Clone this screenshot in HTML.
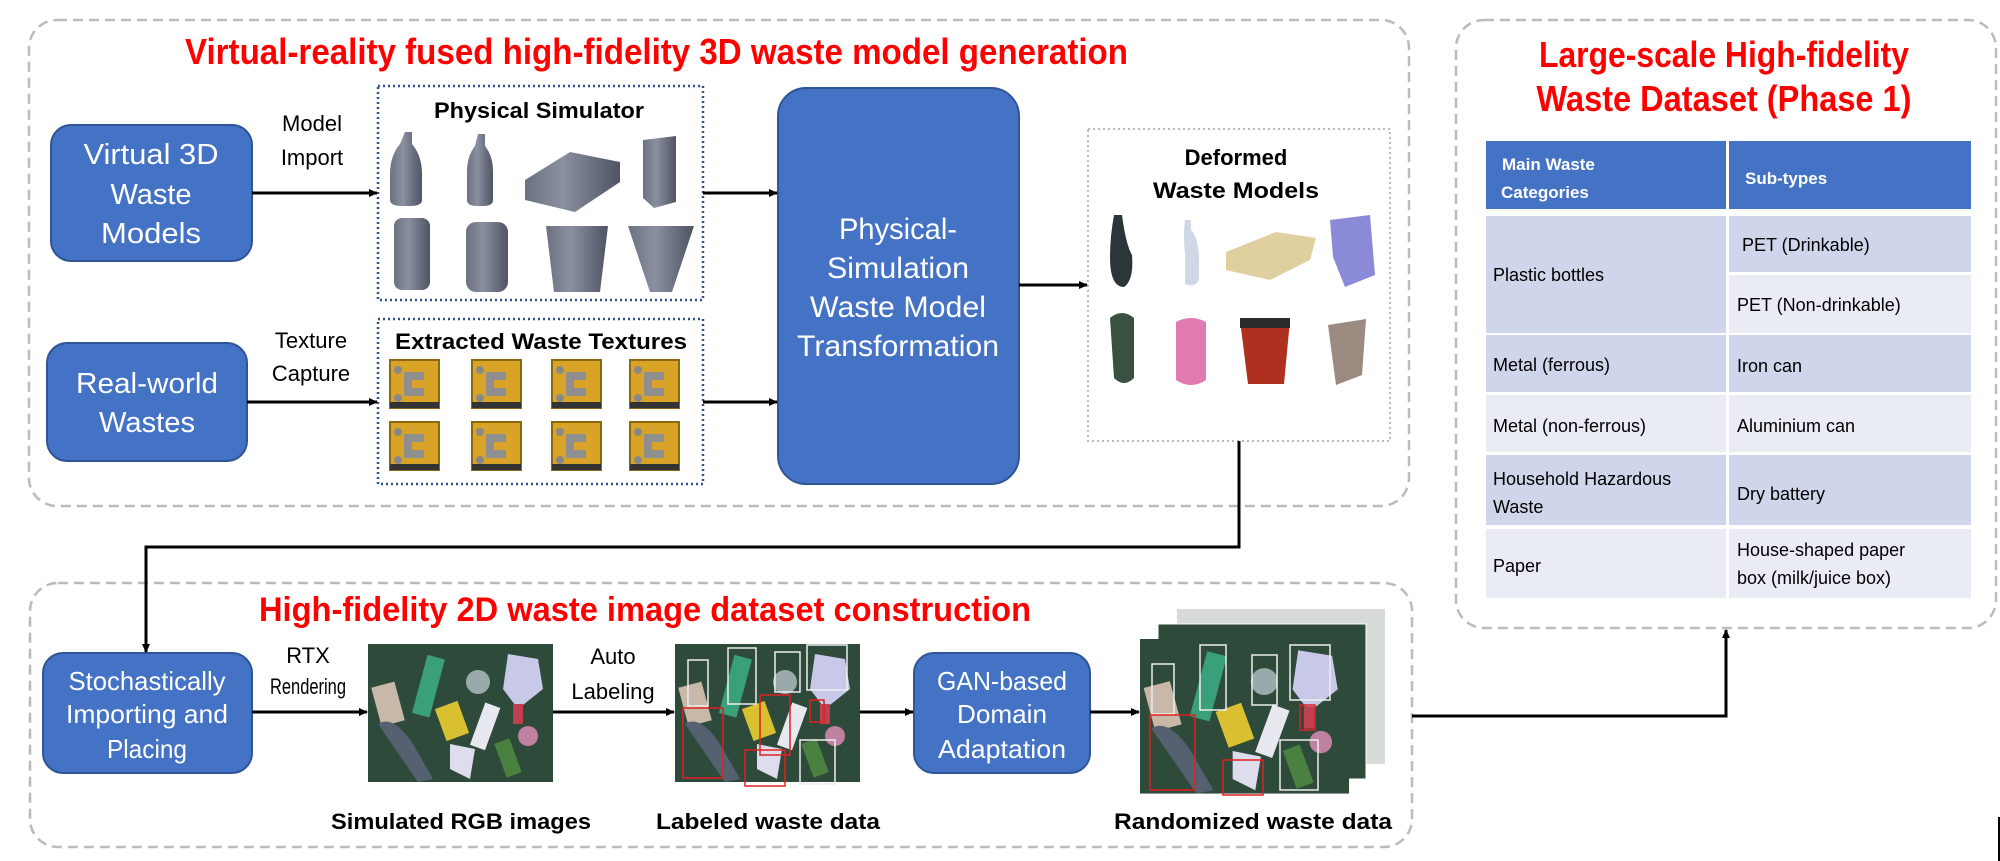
<!DOCTYPE html>
<html><head><meta charset="utf-8"><style>
html,body{margin:0;padding:0;background:#fff;}
svg{display:block;}
text{font-family:"Liberation Sans",sans-serif;}
</style></head><body>
<svg width="2000" height="861" viewBox="0 0 2000 861" xmlns="http://www.w3.org/2000/svg">
<defs>
<marker id="ah" markerWidth="10" markerHeight="10" refX="8" refY="5" orient="auto" markerUnits="userSpaceOnUse"><path d="M0,1 L9,5 L0,9 Z" fill="#000"/></marker>
<linearGradient id="gs" x1="0" x2="1"><stop offset="0" stop-color="#6b7180"/><stop offset="0.4" stop-color="#8a90a0"/><stop offset="1" stop-color="#4e5464"/></linearGradient>
<g id="tile"><rect width="49" height="48" fill="#d9a328"/><rect x="0" y="0" width="49" height="48" fill="none" stroke="#8a6a10" stroke-width="2"/><path d="M14,12 h20 v8 h-12 v8 h12 v8 h-20 z" fill="#8f8f8f"/><circle cx="8" cy="10" r="4" fill="#888"/><circle cx="8" cy="38" r="4" fill="#888"/><rect y="42" width="49" height="6" fill="#333"/></g>
<g id="scene">
<rect width="185" height="138" fill="#2e4a3b"/>
<rect x="8" y="40" width="24" height="40" fill="#c8b8a8" transform="rotate(-15 20 60)"/>
<rect x="52" y="12" width="18" height="60" fill="#3aa07a" transform="rotate(15 60 40)"/>
<circle cx="110" cy="38" r="12" fill="#9aa"/>
<path d="M140,10 l30,5 l5,30 l-25,20 l-15,-20 z" fill="#c8c8e8"/>
<path d="M10,80 q15,-10 35,20 l20,35 l-15,3 z" fill="#556070"/>
<rect x="72" y="60" width="24" height="34" fill="#d8c030" transform="rotate(-20 84 77)"/>
<rect x="110" y="60" width="16" height="45" fill="#e8e8f0" transform="rotate(20 118 80)"/>
<rect x="145" y="60" width="10" height="20" fill="#c04050"/>
<circle cx="160" cy="92" r="10" fill="#c080a0"/>
<rect x="132" y="96" width="16" height="36" fill="#4a8040" transform="rotate(-20 140 114)"/>
<path d="M82,100 l25,5 l-5,30 l-20,-10 z" fill="#dde"/>
</g>
</defs>

<!-- dashed group boxes -->
<rect x="29" y="20" width="1380" height="486" rx="28" fill="none" stroke="#bbb" stroke-width="2.5" stroke-dasharray="10,6"/>
<rect x="1456" y="20" width="540" height="608" rx="28" fill="none" stroke="#bbb" stroke-width="2.5" stroke-dasharray="10,6"/>
<rect x="30" y="583" width="1382" height="264" rx="28" fill="none" stroke="#bbb" stroke-width="2.5" stroke-dasharray="10,6"/>

<!-- titles -->
<text x="185" y="64" font-size="36" font-weight="bold" fill="#ff0000" textLength="943" lengthAdjust="spacingAndGlyphs">Virtual-reality fused high-fidelity 3D waste model generation</text>
<text x="1724" y="67" font-size="36" font-weight="bold" fill="#ff0000" text-anchor="middle" textLength="370" lengthAdjust="spacingAndGlyphs">Large-scale High-fidelity</text>
<text x="1724" y="111" font-size="36" font-weight="bold" fill="#ff0000" text-anchor="middle" textLength="375" lengthAdjust="spacingAndGlyphs">Waste Dataset (Phase 1)</text>
<text x="259" y="621" font-size="34" font-weight="bold" fill="#ff0000" textLength="772" lengthAdjust="spacingAndGlyphs">High-fidelity 2D waste image dataset construction</text>

<!-- blue boxes -->
<rect x="51" y="125" width="201" height="136" rx="20" fill="#4472c4" stroke="#2f5597" stroke-width="2"/>
<g fill="#fff" font-size="29" text-anchor="middle">
<text x="151" y="164" textLength="135" lengthAdjust="spacingAndGlyphs">Virtual 3D</text>
<text x="151" y="204">Waste</text>
<text x="151" y="243" textLength="100" lengthAdjust="spacingAndGlyphs">Models</text>
</g>
<rect x="47" y="343" width="200" height="118" rx="20" fill="#4472c4" stroke="#2f5597" stroke-width="2"/>
<g fill="#fff" font-size="29" text-anchor="middle">
<text x="147" y="393" textLength="142" lengthAdjust="spacingAndGlyphs">Real-world</text>
<text x="147" y="432" textLength="96" lengthAdjust="spacingAndGlyphs">Wastes</text>
</g>
<rect x="778" y="88" width="241" height="396" rx="28" fill="#4472c4" stroke="#2f5597" stroke-width="2"/>
<g fill="#fff" font-size="30" text-anchor="middle">
<text x="898" y="239" textLength="118" lengthAdjust="spacingAndGlyphs">Physical-</text>
<text x="898" y="278" textLength="142" lengthAdjust="spacingAndGlyphs">Simulation</text>
<text x="898" y="317" textLength="176" lengthAdjust="spacingAndGlyphs">Waste Model</text>
<text x="898" y="356" textLength="202" lengthAdjust="spacingAndGlyphs">Transformation</text>
</g>
<rect x="43" y="653" width="209" height="120" rx="20" fill="#4472c4" stroke="#2f5597" stroke-width="2"/>
<g fill="#fff" font-size="26" text-anchor="middle">
<text x="147" y="690" textLength="157" lengthAdjust="spacingAndGlyphs">Stochastically</text>
<text x="147" y="723" textLength="162" lengthAdjust="spacingAndGlyphs">Importing and</text>
<text x="147" y="758" textLength="80" lengthAdjust="spacingAndGlyphs">Placing</text>
</g>
<rect x="914" y="653" width="176" height="120" rx="20" fill="#4472c4" stroke="#2f5597" stroke-width="2"/>
<g fill="#fff" font-size="26" text-anchor="middle">
<text x="1002" y="690" textLength="130" lengthAdjust="spacingAndGlyphs">GAN-based</text>
<text x="1002" y="723" textLength="90" lengthAdjust="spacingAndGlyphs">Domain</text>
<text x="1002" y="758" textLength="128" lengthAdjust="spacingAndGlyphs">Adaptation</text>
</g>

<!-- arrow labels -->
<g font-size="22" fill="#000" text-anchor="middle">
<text x="312" y="131">Model</text>
<text x="312" y="165">Import</text>
<text x="311" y="348">Texture</text>
<text x="311" y="381">Capture</text>
<text x="308" y="663">RTX</text>
<text x="308" y="694" textLength="76" lengthAdjust="spacingAndGlyphs">Rendering</text>
<text x="613" y="664">Auto</text>
<text x="613" y="699">Labeling</text>
</g>

<!-- Physical simulator box -->
<rect x="378" y="86" width="325" height="214" fill="#fff" stroke="#2f4f8f" stroke-width="2.5" stroke-dasharray="2,3"/>
<text x="539" y="118" font-size="22" font-weight="bold" text-anchor="middle" textLength="210" lengthAdjust="spacingAndGlyphs">Physical Simulator</text>
<g fill="url(#gs)">
<path d="M405,132 h7 v12 q10,12 10,30 v26 q0,6 -12,6 h-8 q-12,0 -12,-6 v-26 q0,-18 10,-30 z"/>
<path d="M478,134 h7 v12 q8,10 8,26 v28 q0,6 -10,6 h-6 q-10,0 -10,-6 v-28 q0,-16 8,-26 z"/>
<path d="M525,180 l45,-28 l50,10 v20 l-45,30 l-50,-12 z"/>
<path d="M643,140 l33,-4 v66 l-22,6 l-11,-10 z"/>
<rect x="394" y="218" width="36" height="72" rx="8"/>
<rect x="466" y="222" width="42" height="70" rx="10"/>
<path d="M546,226 h62 l-8,66 h-46 z"/>
<path d="M628,226 h66 l-22,66 h-22 z"/>
</g>

<!-- Extracted textures box -->
<rect x="378" y="319" width="325" height="165" fill="#fff" stroke="#2f4f8f" stroke-width="2.5" stroke-dasharray="2,3"/>
<text x="541" y="349" font-size="22" font-weight="bold" text-anchor="middle" textLength="292" lengthAdjust="spacingAndGlyphs">Extracted Waste Textures</text>
<use href="#tile" x="390" y="360"/><use href="#tile" x="472" y="360"/><use href="#tile" x="552" y="360"/><use href="#tile" x="630" y="360"/>
<use href="#tile" x="390" y="422"/><use href="#tile" x="472" y="422"/><use href="#tile" x="552" y="422"/><use href="#tile" x="630" y="422"/>

<!-- Deformed box -->
<rect x="1088" y="129" width="302" height="312" fill="#fff" stroke="#bbb" stroke-width="2" stroke-dasharray="2,3"/>
<text x="1236" y="165" font-size="22" font-weight="bold" text-anchor="middle">Deformed</text>
<text x="1236" y="198" font-size="22" font-weight="bold" text-anchor="middle" textLength="166" lengthAdjust="spacingAndGlyphs">Waste Models</text>
<path d="M1114,215 h8 q4,30 10,40 q2,25 -8,32 q-14,0 -14,-30 q0,-20 4,-42 z" fill="#2c3538"/>
<path d="M1185,220 h6 v10 q8,8 8,30 v20 q-4,8 -14,4 v-30 q-2,-20 0,-34 z" fill="#d0d8e8"/>
<path d="M1226,252 l50,-20 l40,6 l-6,22 l-40,20 l-44,-10 z" fill="#e0d0a0"/>
<path d="M1330,220 l40,-5 l5,60 l-30,12 l-12,-30 z" fill="#8a8ad8"/>
<path d="M1110,318 q12,-10 24,0 v60 q-10,10 -20,0 z" fill="#3a5040"/>
<path d="M1176,322 q15,-8 30,0 v58 q-15,10 -30,0 z" fill="#e07ab0"/>
<path d="M1240,320 h50 l-6,64 h-36 z" fill="#b03020"/>
<rect x1="" x="1240" y="318" width="50" height="10" fill="#2a2a2a"/>
<path d="M1328,325 l38,-6 l-4,56 l-26,10 z" fill="#9a8a80"/>

<!-- table -->
<rect x="1486" y="141" width="240" height="68" fill="#4472c4"/>
<rect x="1729" y="141" width="242" height="68" fill="#4472c4"/>
<rect x="1486" y="216" width="240" height="117" fill="#cfd5ea"/>
<rect x="1729" y="216" width="242" height="56" fill="#cfd5ea"/>
<rect x="1729" y="275" width="242" height="58" fill="#e9ebf5"/>
<rect x="1486" y="335" width="240" height="57" fill="#cfd5ea"/>
<rect x="1729" y="335" width="242" height="57" fill="#cfd5ea"/>
<rect x="1486" y="395" width="240" height="57" fill="#e9ebf5"/>
<rect x="1729" y="395" width="242" height="57" fill="#e9ebf5"/>
<rect x="1486" y="455" width="240" height="70" fill="#cfd5ea"/>
<rect x="1729" y="455" width="242" height="70" fill="#cfd5ea"/>
<rect x="1486" y="529" width="240" height="69" fill="#e9ebf5"/>
<rect x="1729" y="529" width="242" height="69" fill="#e9ebf5"/>
<g font-size="17" fill="#fff" font-weight="bold">
<text x="1502" y="170">Main Waste</text>
<text x="1501" y="198">Categories</text>
<text x="1745" y="184">Sub-types</text>
</g>
<g font-size="18" fill="#000">
<text x="1493" y="281">Plastic bottles</text>
<text x="1742" y="251">PET (Drinkable)</text>
<text x="1737" y="311">PET  (Non-drinkable)</text>
<text x="1493" y="371">Metal (ferrous)</text>
<text x="1737" y="372">Iron can</text>
<text x="1493" y="432">Metal (non-ferrous)</text>
<text x="1737" y="432">Aluminium can</text>
<text x="1493" y="485">Household Hazardous</text>
<text x="1493" y="513">Waste</text>
<text x="1737" y="500">Dry battery</text>
<text x="1493" y="572">Paper</text>
<text x="1737" y="556">House-shaped paper</text>
<text x="1737" y="584">box (milk/juice box)</text>
</g>

<!-- bottom images -->
<use href="#scene" x="368" y="644"/>
<use href="#scene" x="675" y="644"/>
<g fill="none" stroke-width="1.5">
<rect x="688" y="660" width="20" height="46" stroke="#eee"/>
<rect x="728" y="648" width="28" height="56" stroke="#eee"/>
<rect x="775" y="652" width="25" height="40" stroke="#eee"/>
<rect x="807" y="645" width="40" height="45" stroke="#eee"/>
<rect x="683" y="708" width="40" height="70" stroke="#e02020"/>
<rect x="745" y="750" width="40" height="36" stroke="#e02020"/>
<rect x="810" y="700" width="14" height="22" stroke="#e02020"/>
<rect x="800" y="740" width="35" height="44" stroke="#eee"/>
<rect x="760" y="695" width="30" height="60" stroke="#e02020"/>
</g>
<rect x="1177" y="609" width="208" height="155" fill="#d8dcd8"/>
<rect x="1158" y="624" width="208" height="155" fill="#2e4a3b" stroke="#fff"/>
<use href="#scene" x="1140" y="639" transform="translate(1140 639) scale(1.13 1.12) translate(-1140 -639)"/>
<g fill="none" stroke-width="1.5">
<rect x="1152" y="664" width="22" height="50" stroke="#eee"/>
<rect x="1200" y="645" width="26" height="65" stroke="#eee"/>
<rect x="1252" y="655" width="25" height="50" stroke="#eee"/>
<rect x="1290" y="645" width="40" height="55" stroke="#eee"/>
<rect x="1150" y="715" width="45" height="75" stroke="#e02020"/>
<rect x="1223" y="760" width="40" height="35" stroke="#e02020"/>
<rect x="1300" y="705" width="15" height="25" stroke="#e02020"/>
<rect x="1280" y="740" width="38" height="50" stroke="#eee"/>
</g>
<g font-size="22" font-weight="bold" text-anchor="middle">
<text x="461" y="829" textLength="260" lengthAdjust="spacingAndGlyphs">Simulated RGB images</text>
<text x="768" y="829" textLength="224" lengthAdjust="spacingAndGlyphs">Labeled waste data</text>
<text x="1253" y="829" textLength="278" lengthAdjust="spacingAndGlyphs">Randomized waste data</text>
</g>

<!-- arrows -->
<g stroke="#000" stroke-width="3" fill="none" marker-end="url(#ah)">
<line x1="252" y1="193" x2="377" y2="193"/>
<line x1="703" y1="193" x2="777" y2="193"/>
<line x1="247" y1="402" x2="377" y2="402"/>
<line x1="703" y1="402" x2="777" y2="402"/>
<line x1="1019" y1="285" x2="1087" y2="285"/>
<polyline points="1239,441 1239,547 146,547 146,652"/>
<line x1="252" y1="712" x2="367" y2="712"/>
<line x1="553" y1="712" x2="674" y2="712"/>
<line x1="860" y1="712" x2="913" y2="712"/>
<line x1="1090" y1="712" x2="1139" y2="712"/>
<polyline points="1412,716 1726,716 1726,630"/>
</g>
<line x1="1999" y1="817" x2="1999" y2="861" stroke="#000" stroke-width="2"/>
</svg>
</body></html>
